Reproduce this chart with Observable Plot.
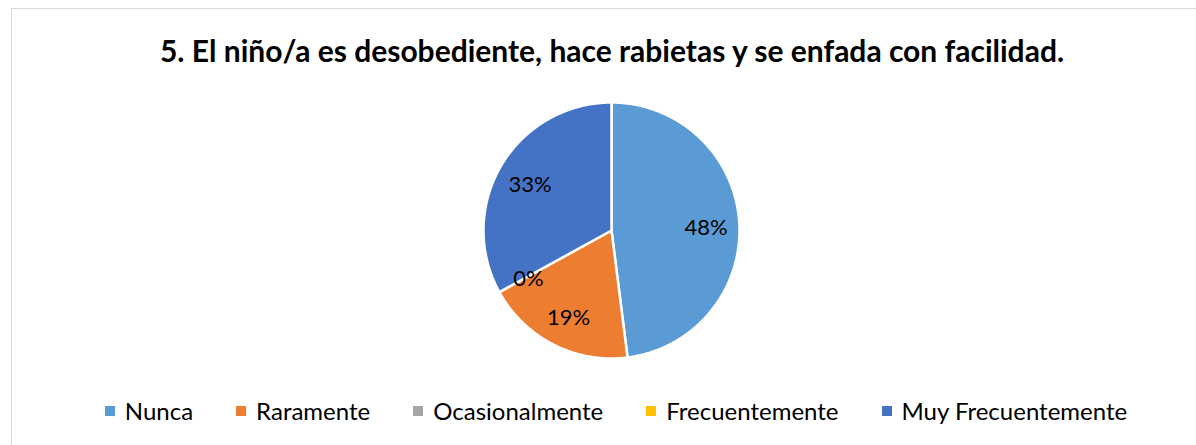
<!DOCTYPE html>
<html>
<head>
<meta charset="utf-8">
<script src="https://cdn.jsdelivr.net/npm/d3@7"></script>
<script src="https://cdn.jsdelivr.net/npm/@observablehq/plot@0.6"></script>
<style>
  html, body { margin: 0; padding: 0; background: #fff; }
  body { width: 1196px; height: 445px; overflow: hidden; position: relative; font-family: Lato, "Open Sans", sans-serif; }
  #frame { position: absolute; left: 11px; top: 8px; width: 1300px; height: 500px; border-left: 1px solid #d9d9d9; border-top: 1px solid #d9d9d9; }
  #title { position: absolute; left: 0; width: 1224px; top: 32px; line-height: 36px; text-align: center; font-weight: bold; font-size: 30px; color: #000; white-space: nowrap; }
  #chart { position: absolute; left: 0; top: 90px; }
  #legend { position: absolute; left: 0; width: 1232px; top: 396px; line-height: 30px; display: flex; justify-content: center; gap: 43px; font-size: 24px; color: #000; }
  .item { display: flex; align-items: center; }
  .sw { width: 10px; height: 10px; margin-right: 10px; }
</style>
</head>
<body>
<div id="frame"></div>
<div id="title"></div>
<div id="chart"></div>
<div id="legend"></div>
<script>
const title = "5. El niño/a es desobediente, hace rabietas y se enfada con facilidad.";
const categories = ["Nunca", "Raramente", "Ocasionalmente", "Frecuentemente", "Muy Frecuentemente"];
const values = [48, 19, 0, 0, 33];
const labels = ["48%", "19%", "0%", "0%", "33%"];
const colors = ["#5B9BD5", "#ED7D31", "#A5A5A5", "#FFC000", "#4472C4"];

document.getElementById("title").textContent = title;

const data = categories.map((c, i) => ({category: c, value: values[i], label: labels[i]}));
const arcs = d3.pie().sort(null).value(d => d.value)(data);

// polygon points per slice (angle measured clockwise from 12 o'clock)
const pts = [];
arcs.forEach(a => {
  if (a.endAngle - a.startAngle <= 0) return;
  const n = Math.max(2, Math.ceil((a.endAngle - a.startAngle) / 0.01));
  pts.push({category: a.data.category, x: 0, y: 0});
  for (let k = 0; k <= n; k++) {
    const t = a.startAngle + (a.endAngle - a.startAngle) * k / n;
    pts.push({category: a.data.category, x: Math.sin(t), y: Math.cos(t)});
  }
  pts.push({category: a.data.category, x: 0, y: 0});
});

const labelR = 0.74;
const labelPts = arcs
  .filter(a => a.data.category !== "Frecuentemente")
  .map(a => {
    const m = (a.startAngle + a.endAngle) / 2;
    return {label: a.data.label, x: labelR * Math.sin(m), y: labelR * Math.cos(m)};
  });

const cx = 611, cy = 140, r = 128;
const plot = Plot.plot({
  width: 1196,
  height: 280,
  margin: 0,
  x: {domain: [-1, 1], range: [cx - r, cx + r], axis: null},
  y: {domain: [-1, 1], range: [cy + r, cy - r], axis: null},
  color: {domain: categories, range: colors},
  marks: [
    Plot.line(pts, {x: "x", y: "y", z: "category", fill: "category", stroke: "white", strokeWidth: 2.5, curve: "linear"}),
    Plot.text(labelPts, {x: "x", y: "y", text: "label", dy: 3, fontSize: 22, fill: "#000", fontFamily: "Lato, sans-serif"})
  ]
});
document.getElementById("chart").appendChild(plot);

const legend = document.getElementById("legend");
categories.forEach((c, i) => {
  const it = document.createElement("div");
  it.className = "item";
  const sw = document.createElement("span");
  sw.className = "sw";
  sw.style.background = colors[i];
  const tx = document.createElement("span");
  tx.textContent = c;
  it.appendChild(sw); it.appendChild(tx);
  legend.appendChild(it);
});
</script>
</body>
</html>
